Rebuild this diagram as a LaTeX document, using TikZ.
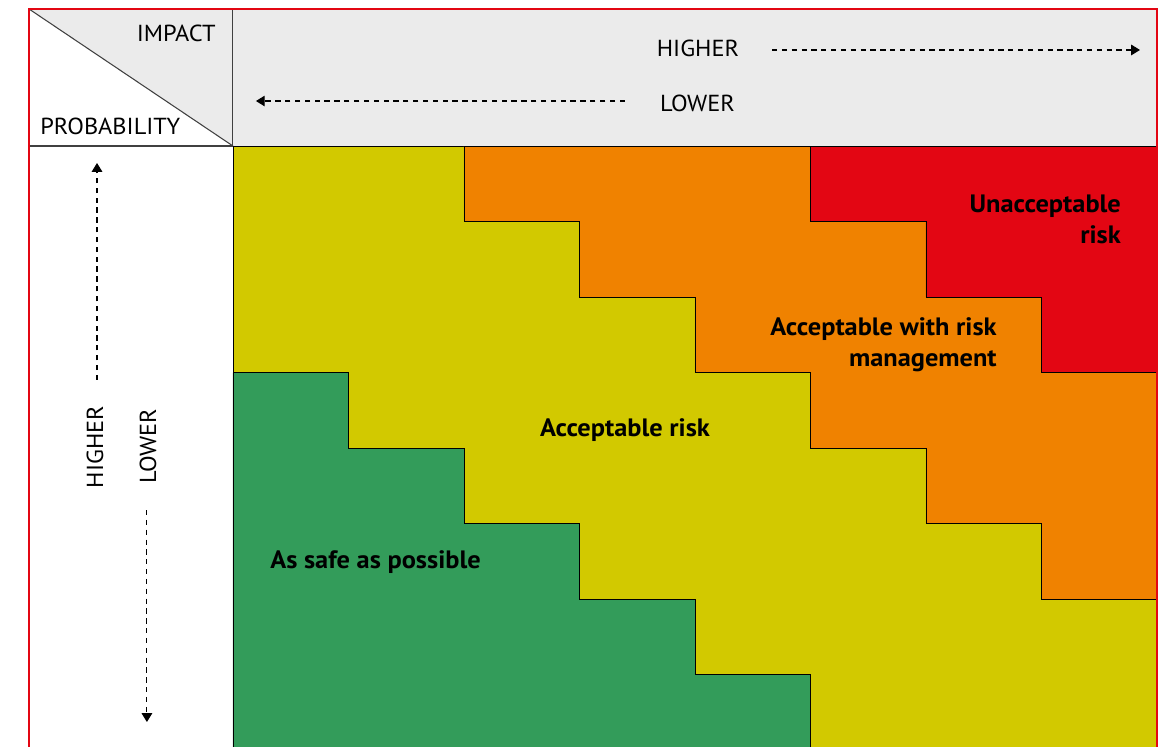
\documentclass[tikz,border=0pt]{standalone}
\usepackage{fontspec}
\setmainfont[FakeStretch=1.05]{PT Sans}
\usetikzlibrary{arrows.meta}

\definecolor{headgray}{HTML}{EBEBEB}
\definecolor{framered}{HTML}{E30613}
\definecolor{zoneyellow}{HTML}{D2C900}
\definecolor{zonegreen}{HTML}{339C5A}
\definecolor{zoneorange}{HTML}{F08200}
\definecolor{zonered}{HTML}{E30613}

\begin{document}
\begin{tikzpicture}[x=2.31cm, y=1.51cm,
    zone/.style={draw=black, line width=0.5pt},
    axislabel/.style={font=\fontsize{13.2}{15}\selectfont, inner sep=0pt},
    zonelabel/.style={font=\fontsize{14.3}{17.5}\selectfont\bfseries, inner sep=0pt},
    hint/.style={line width=0.6pt, dash pattern=on 3pt off 2.6pt,
        -{Triangle[length=5pt, width=6pt]}}]

        % page
        \useasboundingbox (-2.017,0.053) rectangle (8.087,9.934);
        \clip (-2.017,0.053) rectangle (8.087,9.934);

        % header
        \fill[headgray] (0,8) rectangle (8,9.815);
        \fill[headgray] (-1.766,9.815) -- (0,9.815) -- (0,8) -- cycle;
        \draw[black!75, line width=0.6pt] (-1.766,9.815) -- (0,8);
        \draw[black!75, line width=0.6pt] (-1.766,8) -- (0,8) -- (0,9.815);

        % zones
        \fill[zoneyellow, zone] (0,0) rectangle (8,8);
        \fill[zoneorange, zone] (2,8) -- (2,7) -- (3,7) -- (3,6) -- (4,6) -- (4,5) -- (5,5)
            -- (5,4) -- (6,4) -- (6,3) -- (7,3) -- (7,2) -- (8,2) -- (8,8) -- cycle;
        \fill[zonered, zone] (5,8) -- (5,7) -- (6,7) -- (6,6) -- (7,6) -- (7,5) -- (8,5)
            -- (8,8) -- cycle;
        \fill[zonegreen, zone] (0,-1) -- (0,5) -- (1,5) -- (1,4) -- (2,4) -- (2,3) -- (3,3)
            -- (3,2) -- (4,2) -- (4,1) -- (5,1) -- (5,-1) -- cycle;

        % frame
        \draw[framered, line width=1.5pt] (-1.766,-1) rectangle (8,9.815);

        % corner texts
        \node[axislabel, anchor=east] (impact) at (-0.147,9.497) {IMPACT};
        \node[axislabel, anchor=west] (prob) at (-1.671,8.265) {PROBABILITY};

        % impact direction
        \node[axislabel] (impHigh) at (4.026,9.298) {HIGHER};
        \node[axislabel] (impLow) at (4.022,8.570) {LOWER};
        \coordinate (impHighStart) at (4.667,9.272);
        \coordinate (impHighEnd) at (7.853,9.272);
        \coordinate (impLowStart) at (3.394,8.596);
        \coordinate (impLowEnd) at (0.199,8.596);
        \draw[hint] (impHighStart) -- (impHighEnd);
        \draw[hint] (impLowStart) -- (impLowEnd);

        % probability direction
        \node[axislabel, rotate=90] (probHigh) at (-1.195,4.013) {HIGHER};
        \node[axislabel, rotate=90] (probLow) at (-0.736,4.026) {LOWER};
        \coordinate (probHighStart) at (-1.177,4.901);
        \coordinate (probHighEnd) at (-1.177,7.775);
        \coordinate (probLowStart) at (-0.745,3.179);
        \coordinate (probLowEnd) at (-0.745,0.371);
        \draw[hint] (probHighStart) -- (probHighEnd);
        \draw[hint] (probLowStart) -- (probLowEnd);

        % zone names
        \node[zonelabel, align=right, anchor=east] (unacc) at (7.69,7.03)
            {Unacceptable\\risk};
        \node[zonelabel, align=right, anchor=east] (accMgmt) at (6.615,5.364)
            {Acceptable with risk\\management};
        \node[zonelabel] (acc) at (3.394,4.238) {Acceptable risk};
        \node[zonelabel] (safe) at (1.234,2.49) {As safe as possible};

    \end{tikzpicture}
\end{document}
